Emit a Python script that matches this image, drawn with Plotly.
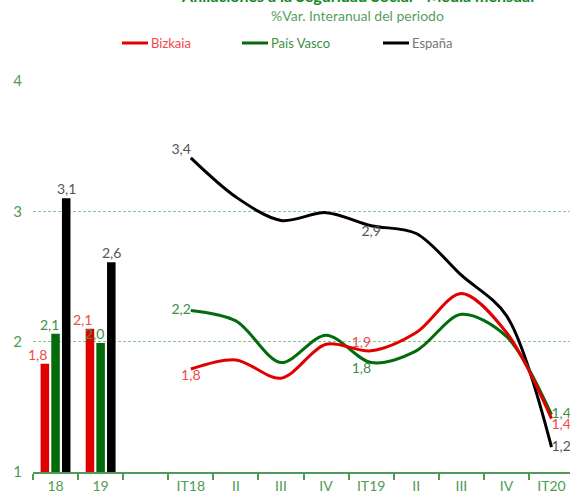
import plotly.graph_objects as go

# ---- data ----
bar_cats = ["18", "19"]
bar_bizkaia = [1.83, 2.10]
bar_pvasco = [2.06, 1.99]
bar_espana = [3.10, 2.61]

line_cats = ["IT18", "II", "III", "IV", "IT19", "II", "III", "IV", "IT20"]
line_bizkaia = [1.79, 1.86, 1.72, 1.98, 1.93, 2.07, 2.37, 2.07, 1.41]
line_pvasco = [2.24, 2.16, 1.84, 2.05, 1.84, 1.93, 2.21, 2.04, 1.44]
line_espana = [3.41, 3.11, 2.93, 2.99, 2.89, 2.83, 2.51, 2.20, 1.19]

tick_labels = bar_cats + [""] + line_cats

RED = "#e00000"
GREEN = "#036b0c"
BLACK = "#000000"
RED_T = "#f04a4a"
GREEN_T = "#3f8f45"
BLACK_T = "#555555"
AX_GREEN = "#4f9a55"
FONT = "Lato"

def fmt(v):
    return f"{v:.1f}".replace(".", ",")

bar_x = list(range(len(bar_cats)))
line_x = list(range(len(bar_cats) + 1, len(bar_cats) + 1 + len(line_cats)))

def line_labels(vals, show):
    return [fmt(v) if i in show else "" for i, v in enumerate(vals)]

show_idx = {0, 4, 8}

fig = go.Figure()
annotations = []
bar_series = [(bar_bizkaia, RED, RED_T, -18), (bar_pvasco, GREEN, GREEN_T, -6), (bar_espana, BLACK, BLACK_T, 11)]
for vals, col, tcol, shift in bar_series:
    fig.add_trace(go.Bar(
        x=bar_x, y=[v - 1 for v in vals], base=1, marker=dict(color=col, line=dict(width=0)),
        showlegend=False, hoverinfo="skip"))
    for xi, v in zip(bar_x, vals):
        annotations.append(dict(x=xi, y=v, xref="x", yref="y", text=fmt(v), showarrow=False,
                                xanchor="center", yanchor="bottom", xshift=shift, yshift=-1,
                                font=dict(color=tcol, size=14, family=FONT)))

def pos(n, d):
    p = ["middle center"] * n
    for k, v in d.items():
        p[k] = v
    return p

n = len(line_cats)
fig.add_trace(go.Scatter(
    x=line_x, y=line_espana, mode="lines+text", line=dict(color=BLACK, width=3, shape="spline", smoothing=0.9),
    text=line_labels(line_espana, show_idx),
    textposition=pos(n, {0: "top left", 4: "bottom center", 8: "middle right"}),
    textfont=dict(color=BLACK_T, size=14, family=FONT), cliponaxis=False, showlegend=False,
    hoverinfo="skip"))
fig.add_trace(go.Scatter(
    x=line_x, y=line_pvasco, mode="lines+text", line=dict(color=GREEN, width=3, shape="spline", smoothing=0.9),
    text=line_labels(line_pvasco, show_idx),
    textposition=pos(n, {0: "middle left", 4: "bottom left", 8: "middle right"}),
    textfont=dict(color=GREEN_T, size=14, family=FONT), cliponaxis=False, showlegend=False,
    hoverinfo="skip"))
fig.add_trace(go.Scatter(
    x=line_x, y=line_bizkaia, mode="lines+text", line=dict(color=RED, width=3, shape="spline", smoothing=0.9),
    text=line_labels(line_bizkaia, show_idx),
    textposition=pos(n, {0: "bottom center", 4: "top left", 8: "bottom right"}),
    textfont=dict(color=RED_T, size=14, family=FONT), cliponaxis=False, showlegend=False,
    hoverinfo="skip"))

W, H = 570, 499
L, R, T, B = 33, 0, 81, 27
pw, ph = W - L - R, H - T - B

def px(x):
    return (x - L) / pw

def py(y):
    return (H - B - y) / ph

shapes = []
legend_items = [("Bizkaia", RED, RED_T, 122), ("País Vasco", GREEN, GREEN_T, 242), ("España", BLACK, "#777777", 383)]
for name, col, tcol, x0 in legend_items:
    shapes.append(dict(type="line", xref="paper", yref="paper", x0=px(x0), x1=px(x0 + 26),
                       y0=py(43), y1=py(43), line=dict(color=col, width=3)))
    annotations.append(dict(text=name, xref="paper", yref="paper", x=px(x0 + 27), y=py(43),
                            xanchor="left", yanchor="middle", showarrow=False,
                            font=dict(color=tcol, size=13, family=FONT)))

annotations.append(dict(text="<b>Afiliaciones a la Seguridad Social - Media mensual</b>", xref="paper", yref="paper",
                        x=px(357), y=py(7), xanchor="center", yanchor="bottom", showarrow=False,
                        font=dict(color="#138a1e", size=16, family=FONT)))
annotations.append(dict(text="%Var. Interanual del periodo", xref="paper", yref="paper",
                        x=px(357), y=py(16), xanchor="center", yanchor="middle", showarrow=False,
                        font=dict(color="#5a9e5f", size=14, family=FONT)))

fig.update_layout(
    width=W, height=H, margin=dict(l=L, r=R, t=T, b=B, autoexpand=False),
    paper_bgcolor="white", plot_bgcolor="white",
    barmode="group", bargap=0.29, bargroupgap=0.2,
    font=dict(family=FONT), hovermode=False,
    shapes=shapes, annotations=annotations,
    xaxis=dict(range=[-0.5, 11.41], tickmode="array", tickvals=list(range(len(tick_labels))),
               ticktext=tick_labels, ticks="", showgrid=False, zeroline=False, automargin=False,
               showline=True, linecolor=AX_GREEN, linewidth=1.5,
               tickfont=dict(color=AX_GREEN, size=14, family=FONT),
               minor=dict(tickmode="array", tickvals=[i - 0.5 for i in range(len(tick_labels) + 1)],
                          ticks="outside", ticklen=6, tickcolor=AX_GREEN, tickwidth=1.5, showgrid=False)),
    yaxis=dict(range=[1, 4], tickvals=[1, 2, 3, 4], ticktext=["1", "2", "3", "4"], automargin=False,
               showgrid=True, gridcolor="#8cc490", griddash="3px,2px", gridwidth=1,
               zeroline=False, showline=False, ticks="", ticklabelstandoff=10,
               tickfont=dict(color=AX_GREEN, size=15, family=FONT)),
)

fig.write_html("out.html", config={"displayModeBar": False},
               post_script="document.body.style.margin='0px';")
